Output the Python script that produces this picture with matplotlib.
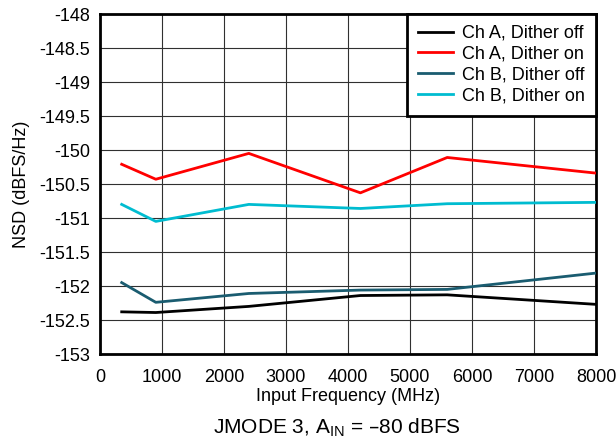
import matplotlib
matplotlib.use("Agg")
import matplotlib.pyplot as plt

plt.rcParams['font.family'] = ['Liberation Sans', 'DejaVu Sans']

freq = [350, 900, 2400, 4200, 5600, 8000]
cha_off = [-152.38, -152.39, -152.30, -152.14, -152.13, -152.27]
cha_on = [-150.21, -150.43, -150.05, -150.63, -150.11, -150.34]
chb_off = [-151.95, -152.24, -152.11, -152.06, -152.05, -151.81]
chb_on = [-150.80, -151.05, -150.80, -150.86, -150.79, -150.77]

series = [
    ("Ch A, Dither off", cha_off, "#000000"),
    ("Ch A, Dither on", cha_on, "#ff0000"),
    ("Ch B, Dither off", chb_off, "#1a5c70"),
    ("Ch B, Dither on", chb_on, "#00bcd0"),
]

xticks = [0, 1000, 2000, 3000, 4000, 5000, 6000, 7000, 8000]
yticks = [-153, -152.5, -152, -151.5, -151, -150.5, -150, -149.5, -149, -148.5, -148]

fig = plt.figure(figsize=(6.16, 4.4), dpi=100)
ax = fig.add_axes([100/616, (440-354)/440, 496/616, (354-14)/440])

for lab, vals, col in series:
    ax.plot(freq, vals, color=col, lw=2, label=lab, zorder=3)

ax.set_xlim(0, 8000)
ax.set_ylim(-153, -148)
ax.set_xticks(xticks)
ax.set_yticks(yticks)
ax.set_yticklabels([f"{v:g}" for v in yticks])
ax.grid(True, color="#303030", lw=0.8)
ax.tick_params(axis="y", length=0, labelsize=13, pad=7)
ax.tick_params(axis="x", length=0, labelsize=13, pad=11)
for s in ax.spines.values():
    s.set_linewidth(2)
    s.set_color("black")

ax.set_xlabel("Input Frequency (MHz)", fontsize=13, labelpad=1)
ax.set_ylabel("NSD (dBFS/Hz)", fontsize=13, labelpad=7)

leg = ax.legend(loc="upper right", fontsize=13, frameon=True, fancybox=False,
                borderaxespad=0, handlelength=1.95, labelspacing=0.22,
                borderpad=0.6, handletextpad=0.5)
leg.get_frame().set_edgecolor("black")
leg.get_frame().set_linewidth(2)
leg.get_frame().set_alpha(1)

fig.text(0.547, 7/440, "JMODE 3, A$_{\\mathregular{IN}}$ = \u201380 dBFS",
         ha="center", va="baseline", fontsize=15)

fig.savefig("out.png", dpi=100)
